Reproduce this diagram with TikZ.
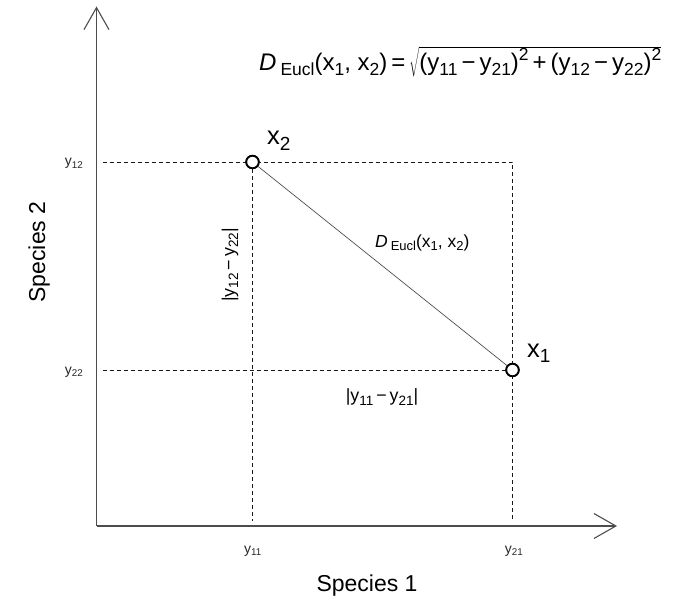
\documentclass[tikz,border=0pt]{standalone}
\usepackage{fontspec}
\setmainfont{Liberation Sans}
\usetikzlibrary{arrows.meta}
\newcommand{\fsz}[1]{\fontsize{#1bp}{#1bp}\selectfont}
\newcommand{\lsub}[1]{\textsubscript{#1}}
\newcommand{\sbx}[2]{\raisebox{-0.2em}{\fsz{#1}#2}}
\newcommand{\spx}[2]{\raisebox{0.42em}{\fsz{#1}#2}}
\begin{document}
\begin{tikzpicture}[x=1bp,y=-1bp,
  axis/.style={draw=black!70,line width=1.3bp,-{Straight Barb[length=22bp,width=25bp,line width=1.1bp]}},
  dsh/.style={draw=black!90,line width=0.8bp,dash pattern=on 4bp off 3bp},
  link/.style={draw=black!70,line width=0.7bp},
  pt/.style={circle,draw=black,line width=1.8bp,fill=white,minimum size=12.5bp,inner sep=0pt},
  tick/.style={font=\fsz{14},text=black!85,inner sep=0pt,anchor=base},
  big/.style={font=\fsz{25.5},inner sep=0pt,anchor=base west},
  lbl/.style={font=\fsz{17.8},inner sep=0pt,anchor=base}]
\useasboundingbox (0,0) rectangle (673,597);
% axes
\coordinate (O) at (96.5,526);
\coordinate (ytop) at (96.5,6.5);
\coordinate (xend) at (617,526);
\draw[axis] (O) -- (ytop);
\draw[axis] (O) -- (xend);
% points
\node[pt] (x2) at (252.5,162) {};
\node[pt] (x1) at (512.5,370) {};
\coordinate (c) at (x1|-x2);
\coordinate (h2) at (102.5,162);
\coordinate (h1) at (102.5,370);
\coordinate (v2) at (252.5,521);
\coordinate (v1) at (512.5,521);
% dashed guides
\draw[dsh] (h2) -- (c) -- (v1);
\draw[dsh] (h1) -- (x1.center);
\draw[dsh] (x2.center) -- (v2);
\draw[link] (x2) -- (x1);
\node[pt] at (x2) {};
\node[pt] at (x1) {};
% tick labels
\node[tick] (ty12) at (74,166) {y\lsub{12}};
\node[tick] (ty22) at (74,374) {y\lsub{22}};
\node[tick] (ty11) at (253,553) {y\lsub{11}};
\node[tick] (ty21) at (514,553) {y\lsub{21}};
% axis titles
\node[font=\fsz{23},inner sep=0pt,anchor=base] (s1) at (367,591) {Species 1};
\node[font=\fsz{23},inner sep=0pt,anchor=base,rotate=90] (s2) at (45,252) {Species 2};
% point labels
\node[big] (lx2) at (267,145) {x\sbx{19}{2}};
\node[big] (lx1) at (527,357) {x\sbx{19}{1}};
% distance labels
\node[font=\fsz{17.5},inner sep=0pt,anchor=base west] (dl) at (375,247) {\textit{D}\,\sbx{13}{Eucl}(x\sbx{13}{1}, x\sbx{13}{2})};
\node[lbl] (dh) at (382,401.5) {|y\sbx{13.5}{11}\,−\,y\sbx{13.5}{21}|};
\node[lbl,rotate=90] (dv) at (234.5,265) {|y\sbx{13.5}{12}\,−\,y\sbx{13.5}{22}|};
% formula
\node[font=\fsz{24},inner sep=0pt,anchor=base west] (f) at (259,71)
  {\textit{D}\,\sbx{17.5}{Eucl}(x\sbx{17.5}{1}, x\sbx{17.5}{2})\,=\,$\sqrt{\mbox{\rule{0pt}{0.95em}(y\sbx{17.5}{11}\,−\,y\sbx{17.5}{21})\spx{17.5}{2}\,+\,(y\sbx{17.5}{12}\,−\,y\sbx{17.5}{22})\spx{17.5}{2}}}$};
\end{tikzpicture}
\end{document}
